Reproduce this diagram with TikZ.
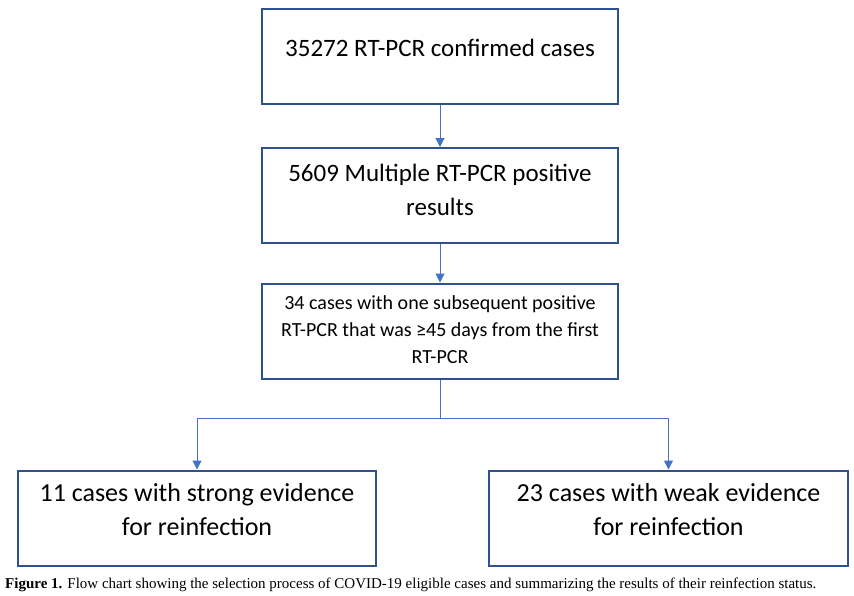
\documentclass[tikz,border=0pt]{standalone}
\usepackage{fontspec}
\setmainfont{Carlito}
\newfontfamily\capfont{Liberation Serif}
\usetikzlibrary{arrows.meta}
\definecolor{boxblue}{HTML}{2F528F}
\definecolor{lineblue}{HTML}{4472C4}
\tikzset{
  box/.style={draw=boxblue, line width=2pt, minimum width=#1, minimum height=95pt, inner sep=0pt},
  box/.default=356pt,
  bigtxt/.style={font=\fontsize{25}{34}\selectfont, align=center, inner sep=0pt},
  lowtxt/.style={font=\fontsize{26}{34}\selectfont, align=center, inner sep=0pt},
  midtxt/.style={font=\fontsize{20}{27}\selectfont, align=center, inner sep=0pt},
  conn/.style={draw=lineblue, line width=1pt},
  arr/.style={conn, -{Triangle[width=9pt,length=9pt]}},
}
\begin{document}
\begin{tikzpicture}[x=1pt,y=-1pt]
\useasboundingbox[fill=white] (0,0) rectangle (854,595);
\node[box] (b1) at (440,56.5) {};
\node[bigtxt] (t1) at (440,48) {35272 RT-PCR confirmed cases};
\node[box] (b2) at (440,195.5) {};
\node[bigtxt] (t2) at (440,190) {5609 Multiple RT-PCR positive\\results};
\node[box] (b3) at (440,331) {};
\node[midtxt] (t3) at (440,330) {34 cases with one subsequent positive\\RT-PCR that was ≥45 days from the first\\RT-PCR};
\node[box=358pt] (b4) at (197,518) {};
\node[lowtxt] (t4) at (197,510) {11 cases with strong evidence\\for reinfection};
\node[box=359pt] (b5) at (668.5,518) {};
\node[lowtxt] (t5) at (668.5,510) {23 cases with weak evidence\\for reinfection};
\coordinate (j) at (440,418);
\draw[arr] (b1.south) -- (b2.north);
\draw[arr] (b2.south) -- (b3.north);
\draw[conn] (b3.south) -- (j);
\draw[arr] (j) -| (b4.north);
\draw[arr] (j) -| (b5.north);
\node[anchor=west, inner sep=0pt, font=\capfont\fontsize{15}{17}\selectfont] (cap) at (5,585) {\textbf{Figure 1.} Flow chart showing the selection process of COVID-19 eligible cases and summarizing the results of their reinfection status.};
\end{tikzpicture}
\end{document}
